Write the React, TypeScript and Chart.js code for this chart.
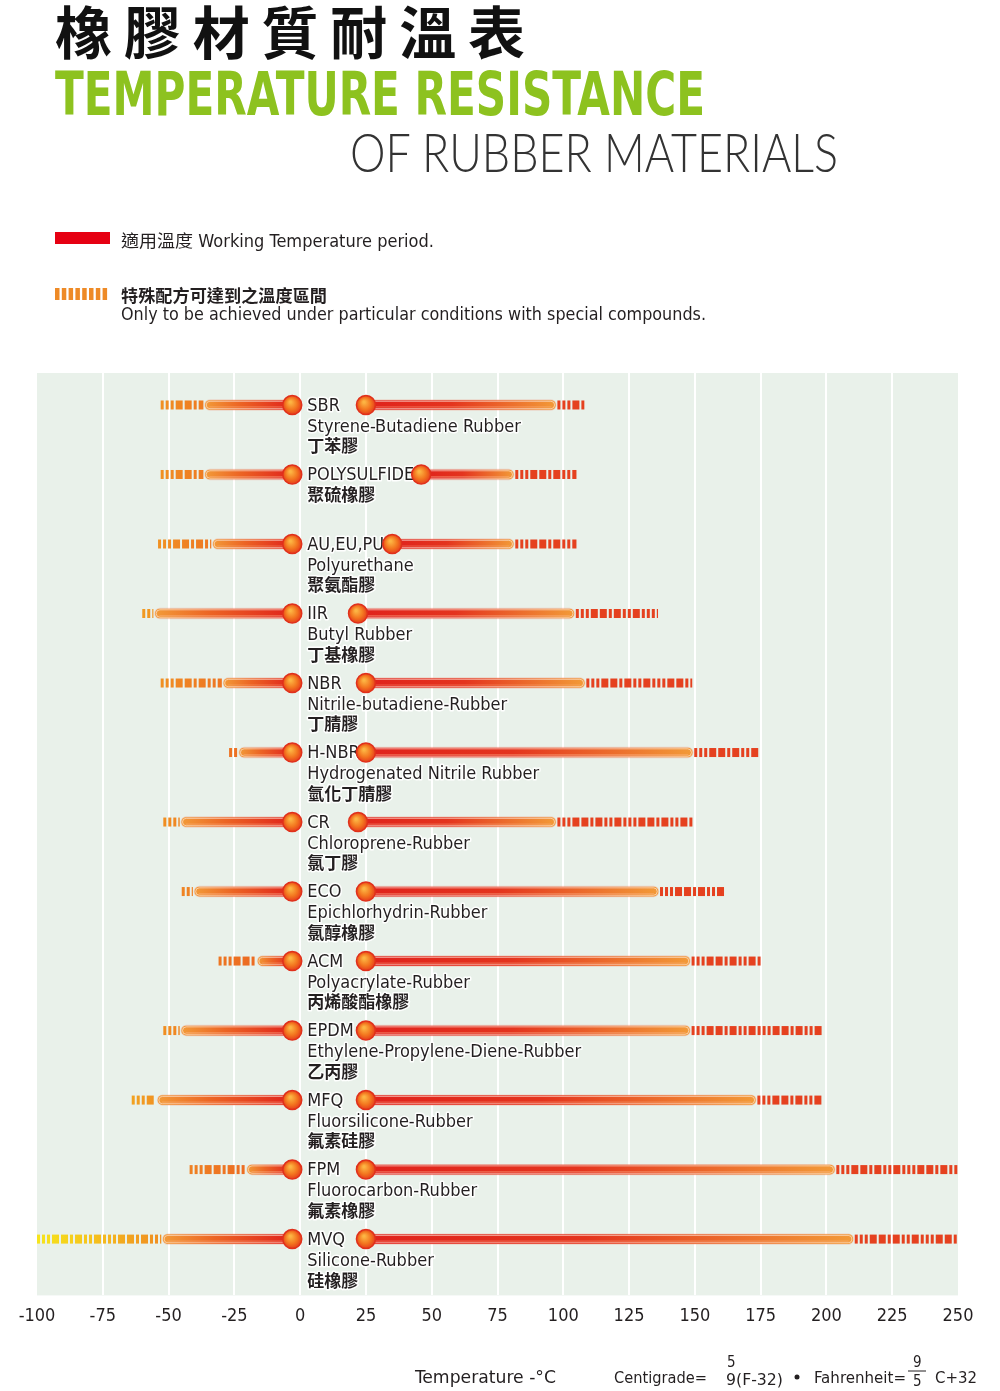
import React, { useEffect, useRef } from 'react';
import { Chart, registerables } from 'chart.js';

Chart.register(...registerables);

// ---------- data ----------
const materials = ['SBR', 'POLYSULFIDE', 'AU,EU,PU', 'IIR', 'NBR', 'H-NBR', 'CR', 'ECO', 'ACM', 'EPDM', 'MFQ', 'FPM', 'MVQ'];
const englishNames = [
  'Styrene-Butadiene Rubber',
  '',
  'Polyurethane',
  'Butyl Rubber',
  'Nitrile-butadiene-Rubber',
  'Hydrogenated Nitrile Rubber',
  'Chloroprene-Rubber',
  'Epichlorhydrin-Rubber',
  'Polyacrylate-Rubber',
  'Ethylene-Propylene-Diene-Rubber',
  'Fluorsilicone-Rubber',
  'Fluorocarbon-Rubber',
  'Silicone-Rubber',
];
const chineseNames = ['丁苯膠', '聚硫橡膠', '聚氨酯膠', '丁基橡膠', '丁腈膠', '氫化丁腈膠', '氯丁膠', '氯醇橡膠', '丙烯酸酯橡膠', '乙丙膠', '氟素硅膠', '氟素橡膠', '硅橡膠'];

// special compounds low end, working range, special compounds high end (°C)
const specialLow = [-53, -53, -54, -60, -53, -27, -52, -45, -31, -52, -64, -42, -100];
const workLow = [-36, -36, -33, -55, -29, -23, -45, -40, -16, -45, -54, -20, -52];
const leftMarker = [-3, -3, -3, -3, -3, -3, -3, -3, -3, -3, -3, -3, -3];
const rightMarker = [25, 46, 35, 22, 25, 25, 22, 25, 25, 25, 25, 25, 25];
const workHigh = [97, 81, 81, 104, 108, 149, 97, 136, 148, 148, 173, 203, 210];
const specialHigh = [108, 105, 105, 136, 149, 175, 150, 162, 175, 199, 199, 250, 250];

const xMin = -100;
const xMax = 250;
const xStep = 25;

// ---------- style ----------
const FONT = '"DejaVu Sans Condensed", "Liberation Sans Narrow", "Noto Sans CJK TC", sans-serif';
const TEXT = '#231f20';

const ok = (...v: number[]) => v.every((n) => Number.isFinite(n));

function hGrad(ctx: CanvasRenderingContext2D, x0: number, x1: number, stops: [number, string][], fallback: string) {
  if (!ok(x0, x1) || x0 === x1) return fallback;
  const g = ctx.createLinearGradient(x0, 0, x1, 0);
  stops.forEach(([o, c]) => g.addColorStop(o, c));
  return g;
}

function roundRectPath(ctx: CanvasRenderingContext2D, x: number, y: number, w: number, h: number, r: number) {
  ctx.beginPath();
  ctx.moveTo(x + r, y);
  ctx.lineTo(x + w - r, y);
  ctx.arc(x + w - r, y + r, r, -Math.PI / 2, Math.PI / 2);
  ctx.lineTo(x + r, y + h);
  ctx.arc(x + r, y + r, r, Math.PI / 2, (3 * Math.PI) / 2);
  ctx.closePath();
}

const dashPattern = [3, 3, 3, 7, 7, 3, 7, 3, 3, 7];

const decorPlugin = {
  id: 'decor',
  beforeDraw(chart: any) {
    const { ctx, chartArea } = chart;
    ctx.save();
    ctx.fillStyle = '#e9f1ea';
    ctx.fillRect(chartArea.left, chartArea.top, chartArea.right - chartArea.left, chartArea.bottom - chartArea.top);
    ctx.restore();
  },
  beforeDatasetDraw(chart: any, args: any) {
    const ctx = chart.ctx;
    if (args.index === 2 || args.index === 3) {
      ctx.save();
      args.meta.data.forEach((el: any) => {
        const { x, base, y, height } = el.getProps(['x', 'base', 'y', 'height'], true);
        if (!ok(x, base, y, height)) return;
        const l = Math.min(x, base) - 1.2;
        const r = Math.max(x, base) + 1.2;
        const h = height + 2.4;
        roundRectPath(ctx, l, y - h / 2, r - l, h, h / 2);
        ctx.fillStyle = 'rgba(240,140,120,0.28)';
        ctx.fill();
      });
      ctx.restore();
    }
    if (args.index === 4) {
      // text labels (drawn below the marker circles)
      const xs = chart.scales.x;
      const ys = chart.scales.y;
      ctx.save();
      ctx.textBaseline = 'middle';
      ctx.textAlign = 'left';
      ctx.lineJoin = 'round';
      materials.forEach((m, i) => {
        const x0 = xs.getPixelForValue(leftMarker[i]) + 15;
        const y0 = ys.getPixelForValue(i);
        const lines = [m, englishNames[i], chineseNames[i]].filter((s) => s);
        lines.forEach((s, k) => {
          const cjk = /[\u4e00-\u9fff]/.test(s);
          ctx.font = cjk ? `bold 17px ${FONT}` : `18px ${FONT}`;
          const yy = y0 + k * 21 + 1;
          ctx.strokeStyle = 'rgba(255,255,255,0.95)';
          ctx.lineWidth = 3;
          ctx.strokeText(s, x0, yy);
          ctx.fillStyle = TEXT;
          ctx.fillText(s, x0, yy);
        });
      });
      ctx.restore();
    }
  },
  afterDatasetDraw(chart: any, args: any) {
    const ctx = chart.ctx;
    const xs = chart.scales.x;
    if (args.index === 0 || args.index === 1) {
      ctx.save();
      const leftGrad = hGrad(
        ctx,
        xs.getPixelForValue(-100),
        xs.getPixelForValue(-20),
        [
          [0, '#f6e51c'],
          [0.25, '#f5c41d'],
          [0.5, '#f19a21'],
          [0.7, '#ef8323'],
          [1, '#ec6c22'],
        ],
        '#ef8323'
      );
      ctx.fillStyle = args.index === 0 ? leftGrad : '#e5411f';
      args.meta.data.forEach((el: any) => {
        const { x, base, y } = el.getProps(['x', 'base', 'y'], true);
        if (!ok(x, base, y)) return;
        let l = Math.min(x, base);
        let r = Math.max(x, base);
        if (args.index === 0) r -= 2;
        else l += 2;
        let cx = l;
        let k = 0;
        while (cx < r - 0.5) {
          const w = Math.min(dashPattern[k % dashPattern.length], r - cx);
          ctx.fillRect(cx, y - 4.5, w, 9);
          cx += w + 2;
          k++;
        }
      });
      ctx.restore();
    }
    if (args.index === 2 || args.index === 3) {
      ctx.save();
      args.meta.data.forEach((el: any) => {
        const { x, base, y, height } = el.getProps(['x', 'base', 'y', 'height'], true);
        if (!ok(x, base, y, height)) return;
        const l = Math.min(x, base);
        const r = Math.max(x, base);
        ctx.beginPath();
        ctx.moveTo(l + 4, y + 2);
        ctx.lineTo(r - 4, y + 2);
        ctx.strokeStyle = 'rgba(255,190,150,0.35)';
        ctx.lineWidth = 1.2;
        ctx.stroke();
        roundRectPath(ctx, l + 0.8, y - height / 2 + 0.8, r - l - 1.6, height - 1.6, (height - 1.6) / 2);
        ctx.strokeStyle = 'rgba(255,238,228,0.7)';
        ctx.lineWidth = 0.9;
        ctx.stroke();
      });
      ctx.restore();
    }
  },
};

export default function App() {
  const ref = useRef<HTMLCanvasElement>(null);

  useEffect(() => {
    const canvas = ref.current;
    if (!canvas) return;
    const rows = materials.map((_, i) => i);

    const barCommon = {
      type: 'bar' as const,
      indexAxis: 'y' as const,
      grouped: false,
      barThickness: 9,
      borderWidth: 0,
      borderSkipped: false as const,
    };

    const chart = new Chart(canvas, {
      type: 'bar',
      data: {
        datasets: [
          {
            ...barCommon,
            label: 'special-low',
            order: 3,
            data: rows.map((i) => ({ y: i, x: [specialLow[i], workLow[i]] })) as any,
            backgroundColor: 'rgba(0,0,0,0)',
          },
          {
            ...barCommon,
            label: 'special-high',
            order: 3,
            data: rows.map((i) => ({ y: i, x: [workHigh[i], specialHigh[i]] })) as any,
            backgroundColor: 'rgba(0,0,0,0)',
          },
          {
            ...barCommon,
            label: 'working-low',
            order: 2,
            borderRadius: 4.5,
            data: rows.map((i) => ({ y: i, x: [workLow[i], leftMarker[i]] })) as any,
            backgroundColor: (c: any) => {
              const xs = c.chart.scales.x;
              if (c.type !== 'data' || !xs) return '#e8401f';
              const i = c.dataIndex;
              return hGrad(
                c.chart.ctx,
                xs.getPixelForValue(workLow[i]),
                xs.getPixelForValue(leftMarker[i]),
                [
                  [0, '#f29a38'],
                  [0.4, '#ec6424'],
                  [1, '#e0221c'],
                ],
                '#ea4a20'
              );
            },
          },
          {
            ...barCommon,
            label: 'working-high',
            order: 2,
            borderRadius: 4.5,
            data: rows.map((i) => ({ y: i, x: [rightMarker[i], workHigh[i]] })) as any,
            backgroundColor: (c: any) => {
              const xs = c.chart.scales.x;
              if (c.type !== 'data' || !xs) return '#e8401f';
              const i = c.dataIndex;
              return hGrad(
                c.chart.ctx,
                xs.getPixelForValue(rightMarker[i]),
                xs.getPixelForValue(workHigh[i]),
                [
                  [0, '#e0221c'],
                  [0.45, '#e4341e'],
                  [1, '#f29a38'],
                ],
                '#ea4a20'
              );
            },
          },
          {
            type: 'scatter',
            label: 'markers',
            order: 1,
            data: rows.flatMap((i) => [
              { x: leftMarker[i], y: i },
              { x: rightMarker[i], y: i },
            ]) as any,
            pointRadius: 9.5,
            pointHoverRadius: 9.5,
            pointBorderWidth: 1.5,
            pointBorderColor: '#e0301b',
            pointBackgroundColor: (c: any) => {
              const xs = c.chart.scales.x;
              const ys = c.chart.scales.y;
              if (c.type !== 'data' || !xs || !ys || !c.raw) return '#f06a1e';
              const px = xs.getPixelForValue(c.raw.x);
              const py = ys.getPixelForValue(c.raw.y);
              if (!ok(px, py)) return '#f06a1e';
              const g = c.chart.ctx.createRadialGradient(px - 2, py - 3, 1, px, py, 10);
              g.addColorStop(0, '#fcb443');
              g.addColorStop(0.55, '#f3761f');
              g.addColorStop(1, '#e4381b');
              return g;
            },
          } as any,
        ],
      },
      options: {
        responsive: false,
        animation: false,
        indexAxis: 'y',
        events: [],
        layout: { padding: { left: 37, right: 42, top: 373, bottom: 54 } },
        plugins: { legend: { display: false }, tooltip: { enabled: false } },
        scales: {
          x: {
            type: 'linear',
            min: xMin,
            max: xMax,
            offset: false,
            border: { display: false },
            grid: {
              drawTicks: false,
              lineWidth: 2,
              color: (c: any) => (c.tick && (c.tick.value === xMin || c.tick.value === xMax) ? 'rgba(0,0,0,0)' : '#ffffff'),
            },
            ticks: {
              stepSize: xStep,
              padding: 10,
              color: TEXT,
              font: { family: FONT, size: 18 },
              callback: (v: any) => String(v),
            },
          },
          y: {
            type: 'linear',
            min: -0.46,
            max: 12.81,
            reverse: true,
            offset: false,
            display: false,
          },
        },
      } as any,
      plugins: [decorPlugin],
    });
    return () => chart.destroy();
  }, []);

  const legendDashes = Array.from({ length: 8 }, (_, k) => k);

  return (
    <div style={{ position: 'absolute', left: 0, top: 0, width: 1000, height: 1391, background: '#ffffff', overflow: 'hidden' }}>
      <canvas ref={ref} width={1000} height={1391} style={{ position: 'absolute', left: 0, top: 0, width: 1000, height: 1391 }} />
      <svg width={1000} height={1391} style={{ position: 'absolute', left: 0, top: 0, pointerEvents: 'none' }}>
        <text x={55} y={54} fontSize={57} fontWeight={700} fill="#111" fontFamily='"Noto Sans CJK TC", "Noto Sans CJK SC", sans-serif' textLength={470} lengthAdjust="spacing">
          橡膠材質耐溫表
        </text>
        <text x={55} y={115} fontSize={60} fontWeight={700} fill="#8dc21f" fontFamily='"Liberation Sans Narrow", "DejaVu Sans Condensed", sans-serif' textLength={650} lengthAdjust="spacingAndGlyphs">
          TEMPERATURE RESISTANCE
        </text>
        <text x={350} y={172} fontSize={54} fontWeight={300} fill="#333" fontFamily='Lato, "Open Sans", sans-serif' textLength={488} lengthAdjust="spacingAndGlyphs">
          OF RUBBER MATERIALS
        </text>

        <rect x={55} y={232} width={55} height={12} fill="#e60012" />
        <text x={121} y={247} fontSize={17} fill={TEXT} fontFamily={FONT} textLength={313} lengthAdjust="spacingAndGlyphs">
          適用溫度 Working Temperature period.
        </text>

        {legendDashes.map((k) => (
          <rect key={k} x={55 + k * 6.8} y={288} width={4.5} height={12} fill="#ee8a26" />
        ))}
        <text x={121} y={302} fontSize={17} fontWeight={700} fill={TEXT} fontFamily={FONT} textLength={206} lengthAdjust="spacingAndGlyphs">
          特殊配方可達到之溫度區間
        </text>
        <text x={121} y={320} fontSize={17} fill={TEXT} fontFamily={FONT} textLength={585} lengthAdjust="spacingAndGlyphs">
          Only to be achieved under particular conditions with special compounds.
        </text>

        <text x={415} y={1383} fontSize={17} fill={TEXT} fontFamily={FONT} textLength={141} lengthAdjust="spacingAndGlyphs">
          Temperature -°C
        </text>
        <text x={614} y={1383} fontSize={16} fill={TEXT} fontFamily={FONT} textLength={93} lengthAdjust="spacingAndGlyphs">
          Centigrade=
        </text>
        <text x={727} y={1367} fontSize={15} fill={TEXT} fontFamily={FONT}>
          5
        </text>
        <text x={726} y={1385} fontSize={16} fill={TEXT} fontFamily={FONT} textLength={57} lengthAdjust="spacingAndGlyphs">
          9(F-32)
        </text>
        <circle cx={797} cy={1377} r={2.5} fill={TEXT} />
        <text x={814} y={1383} fontSize={16} fill={TEXT} fontFamily={FONT} textLength={92} lengthAdjust="spacingAndGlyphs">
          Fahrenheit=
        </text>
        <text x={913} y={1367} fontSize={15} fill={TEXT} fontFamily={FONT}>
          9
        </text>
        <line x1={908} y1={1371} x2={926} y2={1371} stroke={TEXT} strokeWidth={1} />
        <text x={913} y={1386} fontSize={15} fill={TEXT} fontFamily={FONT}>
          5
        </text>
        <text x={935} y={1383} fontSize={16} fill={TEXT} fontFamily={FONT} textLength={42} lengthAdjust="spacingAndGlyphs">
          C+32
        </text>
      </svg>
    </div>
  );
}
